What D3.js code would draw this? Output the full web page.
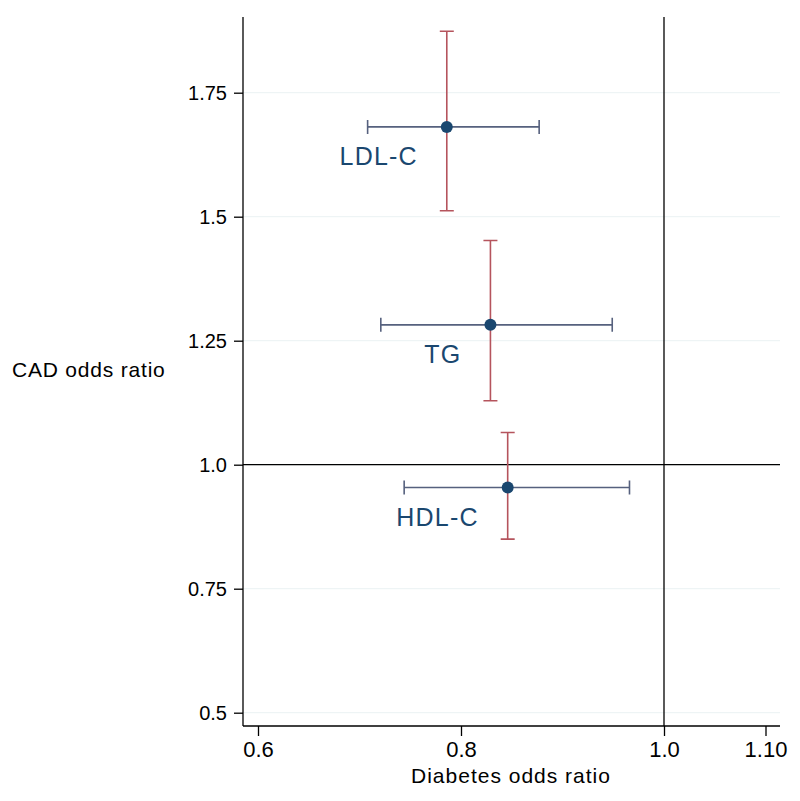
<!DOCTYPE html>
<html>
<head>
<meta charset="utf-8">
<script src="https://cdn.jsdelivr.net/npm/d3@7"></script>
<style>
    html, body { margin: 0; padding: 0; background: #fff; }
    svg { display: block; font-family: "Liberation Sans", Arial, Helvetica, sans-serif; }
</style>
</head>
<body>
<svg id="chart" width="800" height="801"></svg>
<script>
// 지질 형질별 당뇨/관상동맥질환 오즈비 (점 + 95% CI)
var traits = ['LDL-C', 'TG', 'HDL-C'];
var diabetesOR = [0.786, 0.829, 0.846];
var diabetesLo = [0.708, 0.721, 0.744];
var diabetesHi = [0.877, 0.949, 0.966];
var cadOR = [1.681, 1.282, 0.954];
var cadLo = [1.512, 1.129, 0.850];
var cadHi = [1.874, 1.452, 1.065];

var xTicks = [0.6, 0.8, 1.0, 1.10];
var xTickLabels = ['0.6', '0.8', '1.0', '1.10'];
var yTicks = [0.5, 0.75, 1.0, 1.25, 1.5, 1.75];
var yTickLabels = ['0.5', '0.75', '1.0', '1.25', '1.5', '1.75'];

(function () {
    var NAVY = '#1a476f';
    var H_CI = '#56617e';
    var V_CI = '#b5545d';

    var svg = d3.select('#chart');
    var left = 243, right = 780, top = 17, bottom = 726;

    // 축 범위: 0.6 → 258px, 1.0 → 664px / 1.0 → 464.7px, 1.75 → 92.7px
    var x = d3.scaleLinear().domain([0.6, 1.0]).range([258, 664]);
    var y = d3.scaleLinear().domain([1.0, 1.75]).range([464.7, 92.7]);

    // 그리드
    svg.append('g').selectAll('line')
        .data(yTicks).join('line')
        .attr('x1', left).attr('x2', right)
        .attr('y1', function (d) { return y(d); })
        .attr('y2', function (d) { return y(d); })
        .attr('stroke', '#eaf2f3').attr('stroke-width', 1);

    // y축
    var yAxis = d3.axisLeft(y).tickValues(yTicks).tickSize(9).tickPadding(7)
        .tickFormat(function (d, i) { return yTickLabels[i]; });
    var gy = svg.append('g').attr('transform', 'translate(' + left + ',0)').call(yAxis);
    gy.select('.domain').attr('d', 'M0,' + top + 'V' + bottom);

    // x축
    var xAxis = d3.axisBottom(x).tickValues(xTicks).tickSize(10).tickPadding(5.5)
        .tickFormat(function (d, i) { return xTickLabels[i]; });
    var gx = svg.append('g').attr('transform', 'translate(0,' + bottom + ')').call(xAxis);
    gx.select('.domain').attr('d', 'M' + left + ',0H' + right);

    [gx, gy].forEach(function (g) {
        g.selectAll('line, path').attr('stroke', '#000').attr('stroke-width', 1.3);
        g.selectAll('text').attr('fill', '#000')
            .attr('font-family', '"Liberation Sans", Arial, sans-serif');
    });
    gy.selectAll('text').attr('font-size', 20);
    gx.selectAll('text').attr('font-size', 22).attr('dy', '0.71em');

    // 기준선 (OR = 1)
    svg.append('line')
        .attr('x1', x(1.0)).attr('x2', x(1.0))
        .attr('y1', top).attr('y2', bottom)
        .attr('stroke', '#000').attr('stroke-width', 1.3);
    svg.append('line')
        .attr('x1', left).attr('x2', right)
        .attr('y1', y(1.0)).attr('y2', y(1.0))
        .attr('stroke', '#000').attr('stroke-width', 1.3);

    var rows = traits.map(function (t, i) {
        return {
            name: t, dx: diabetesOR[i], dlo: diabetesLo[i], dhi: diabetesHi[i],
            cy: cadOR[i], clo: cadLo[i], chi: cadHi[i]
        };
    });
    var cap = 7;

    var g = svg.append('g').selectAll('g').data(rows).join('g');

    // 가로 CI (당뇨)
    g.append('path')
        .attr('d', function (d) {
            var yy = y(d.cy), a = x(d.dlo), b = x(d.dhi);
            return 'M' + a + ',' + yy + 'H' + b +
                'M' + a + ',' + (yy - cap) + 'V' + (yy + cap) +
                'M' + b + ',' + (yy - cap) + 'V' + (yy + cap);
        })
        .attr('fill', 'none').attr('stroke', H_CI).attr('stroke-width', 1.6);

    // 세로 CI (CAD)
    g.append('path')
        .attr('d', function (d) {
            var xx = x(d.dx), a = y(d.chi), b = y(d.clo);
            return 'M' + xx + ',' + a + 'V' + b +
                'M' + (xx - cap) + ',' + a + 'H' + (xx + cap) +
                'M' + (xx - cap) + ',' + b + 'H' + (xx + cap);
        })
        .attr('fill', 'none').attr('stroke', V_CI).attr('stroke-width', 1.6);

    g.append('circle')
        .attr('cx', function (d) { return x(d.dx); })
        .attr('cy', function (d) { return y(d.cy); })
        .attr('r', 6)
        .attr('fill', NAVY);

    // 라벨: 7시 방향
    g.append('text')
        .attr('x', function (d) { return x(d.dx) - 29; })
        .attr('y', function (d) { return y(d.cy) + 38; })
        .attr('text-anchor', 'end')
        .attr('font-size', 25)
        .attr('letter-spacing', 1.2)
        .attr('fill', NAVY)
        .text(function (d) { return d.name; });

    // 축 제목
    svg.append('text')
        .attr('x', 511).attr('y', 783)
        .attr('text-anchor', 'middle')
        .attr('font-size', 21)
        .attr('letter-spacing', 1)
        .text('Diabetes odds ratio');
    svg.append('text')
        .attr('x', 12).attr('y', 377)
        .attr('font-size', 21)
        .attr('letter-spacing', 0.8)
        .text('CAD odds ratio');
})();
</script>
</body>
</html>
